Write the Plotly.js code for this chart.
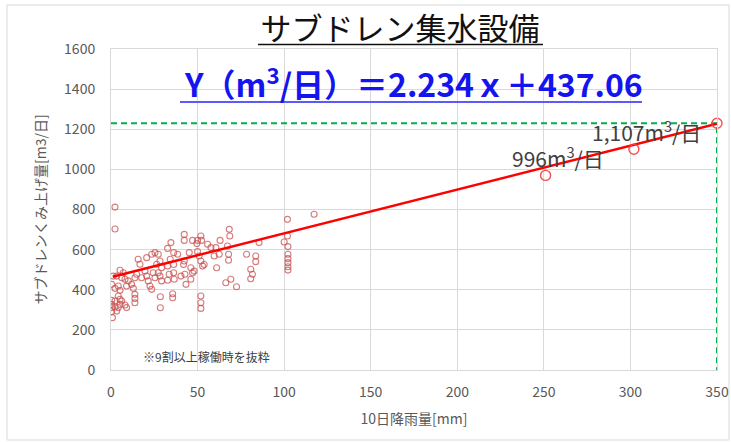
<!DOCTYPE html>
<html>
<head>
<meta charset="utf-8">
<script src="https://cdn.plot.ly/plotly-3.0.1.min.js"></script>
<style>
html,body{margin:0;padding:0;background:#fff;}
#chart{width:731px;height:442px;}
</style>
</head>
<body>
<div id="chart"></div>
<script>
// ---- data ----
const rainX = [2.3,2.3,5.2,7.1,1.3,3.3,6.2,8.1,10,9,11.9,13.8,12.9,15.7,16.7,14.8,17.7,19.6,20.6,21.5,22.5,23.5,20.6,23.5,25.4,27.3,28.3,29.2,28.3,27.3,29.2,25.4,24.4,26.4,0.4,2.3,4.2,5.2,0.4,0.4,0.4,0.4,0.8,2.3,2.3,3.3,4.2,5.2,5.2,4.2,6.2,8.1,9,13.8,13.8,13.8,28.5,28.5,
  42.3,42.3,47.1,50,51.9,52.3,49.6,55.8,57.7,60.6,63,59.6,62.5,50,50.9,51.9,52.9,53.8,48,47.1,46.1,43.3,34.6,32.7,36.2,34.2,32.7,36.2,33.6,36.2,32.7,36.5,41.9,42.7,35.6,35.6,51.9,51.9,51.9,
  68.3,68.6,67.3,67.9,67.9,78.3,83.6,83.6,80.7,81.7,80.7,66.3,69.2,72.5,85.5,61,
  101.9,117.3,101.9,100,102.2,102.2,102.2,102.2,102.2,102.2,
  38.5,42.3,45.2,46.1,40.4];
const pumpY = [812,703,497,485,468,468,460,452,444,419,427,460,407,552,527,477,460,493,468,444,419,402,560,577,585,577,543,510,468,485,444,460,485,527,427,407,419,397,347,327,311,291,261,344,314,294,369,352,327,311,344,324,311,377,357,335,365,310,
  676,646,646,646,668,646,630,627,610,610,646,568,577,590,568,543,518,526,493,485,452,427,635,606,585,552,518,526,477,485,447,452,526,477,380,360,369,335,307,
  701,668,618,577,547,577,568,540,502,477,455,435,452,415,635,510,
  751,776,668,638,615,577,555,535,515,498,
  577,543,585,510,468];
const peakX = [251, 302, 350];
const peakY = [970, 1100, 1230];
const trendX = [1, 350];
const trendY = [465, 1227];
const refX = [0, 350, 350];
const refY = [1230, 1230, 0];
const xTicks = [0,50,100,150,200,250,300,350];
const yTicks = [0,200,400,600,800,1000,1200,1400,1600];
const chartTitle = 'サブドレン集水設備';
const equation = 'Y（m<sup>3</sup>/日）＝2.234ｘ＋437.06';
const label996 = '996m<sup>3</sup>/日';
const label1107 = '1,107m<sup>3</sup>/日';
const noteText = '※9割以上稼働時を抜粋';
const xTitle = '10日降雨量[mm]';
const yTitle = 'サブドレンくみ上げ量[m3/日]';

// ---- geometry helpers (plot area in pixels) ----
const L = 111, R = 717, T = 49, B = 370;
const px = v => (v - L) / (R - L);
const py = v => (B - v) / (B - T);

const FONT = '"Noto Sans CJK JP", "Noto Sans", sans-serif';

const traces = [
  {x: refX, y: refY, mode: 'lines', line: {color: '#00B050', width: 2, dash: '6px,4px'}, hoverinfo: 'skip', cliponaxis: false},
  {x: rainX, y: pumpY, mode: 'markers', marker: {symbol: 'circle-open', size: 6, color: 'rgba(200,80,80,0.75)', line: {width: 1.1}}},
  {x: trendX, y: trendY, mode: 'lines', line: {color: '#FF0000', width: 2.5}, cliponaxis: false},
  {x: peakX, y: peakY, mode: 'markers', cliponaxis: false, marker: {symbol: 'circle-open', size: 10, color: 'rgba(245,60,60,0.9)', line: {width: 1.4}}}
];

const layout = {
  width: 731, height: 442,
  margin: {l: L, r: 731 - R, t: T, b: 442 - B},
  paper_bgcolor: '#fff', plot_bgcolor: '#fff',
  showlegend: false,
  font: {family: FONT, color: '#595959'},
  title: {text: chartTitle, x: 400/731, xanchor: 'center', y: 1 - 29/442, yanchor: 'middle',
          font: {family: FONT, size: 31, color: '#111'}},
  xaxis: {range: [0, 350], tickvals: xTicks, showgrid: true, gridcolor: '#D9D9D9', gridwidth: 1,
          zeroline: false, showline: true, linecolor: '#D9D9D9', mirror: true, ticks: '',
          ticklabelstandoff: 9, tickfont: {size: 14, color: '#595959'},
          title: {text: xTitle, font: {size: 14, color: '#595959'}, standoff: 14}},
  yaxis: {range: [0, 1600], tickvals: yTicks, showgrid: true, gridcolor: '#D9D9D9', gridwidth: 1,
          zeroline: false, showline: true, linecolor: '#D9D9D9', mirror: true, ticks: '',
          ticklabelstandoff: 12, tickfont: {size: 14, color: '#595959'},
          title: {text: yTitle, font: {size: 14, color: '#595959'}, standoff: 14}},
  shapes: [
    {type: 'rect', xref: 'paper', yref: 'paper', x0: px(7), x1: px(729), y0: py(440), y1: py(5),
     line: {color: '#D9D9D9', width: 1}, layer: 'below'},
    {type: 'line', xref: 'paper', yref: 'paper', x0: px(258), x1: px(543), y0: py(44.5), y1: py(44.5),
     line: {color: '#111', width: 1.5}},
    {type: 'line', xref: 'paper', yref: 'paper', x0: px(180), x1: px(642), y0: py(102), y1: py(102),
     line: {color: '#5A5AFF', width: 2}}
  ],
  annotations: [
    {xref: 'paper', yref: 'paper', x: px(413), y: py(82.5), xanchor: 'center', yanchor: 'middle',
     text: '<b>' + equation + '</b>', showarrow: false, font: {family: FONT, size: 32, color: '#1414EE'}},
    {xref: 'x', yref: 'y', x: 230.5, y: 1062, xanchor: 'left', yanchor: 'middle', text: label996,
     showarrow: false, font: {family: FONT, size: 21, color: '#404040'}},
    {xref: 'x', yref: 'y', x: 276.5, y: 1191, xanchor: 'left', yanchor: 'middle', text: label1107,
     showarrow: false, font: {family: FONT, size: 21, color: '#404040'}},
    {xref: 'x', yref: 'y', x: 17.5, y: 65, xanchor: 'left', yanchor: 'middle', text: noteText,
     showarrow: false, font: {family: FONT, size: 12, color: '#404040'}}
  ]
};

Plotly.newPlot('chart', traces, layout, {staticPlot: true, displayModeBar: false});
</script>
</body>
</html>
